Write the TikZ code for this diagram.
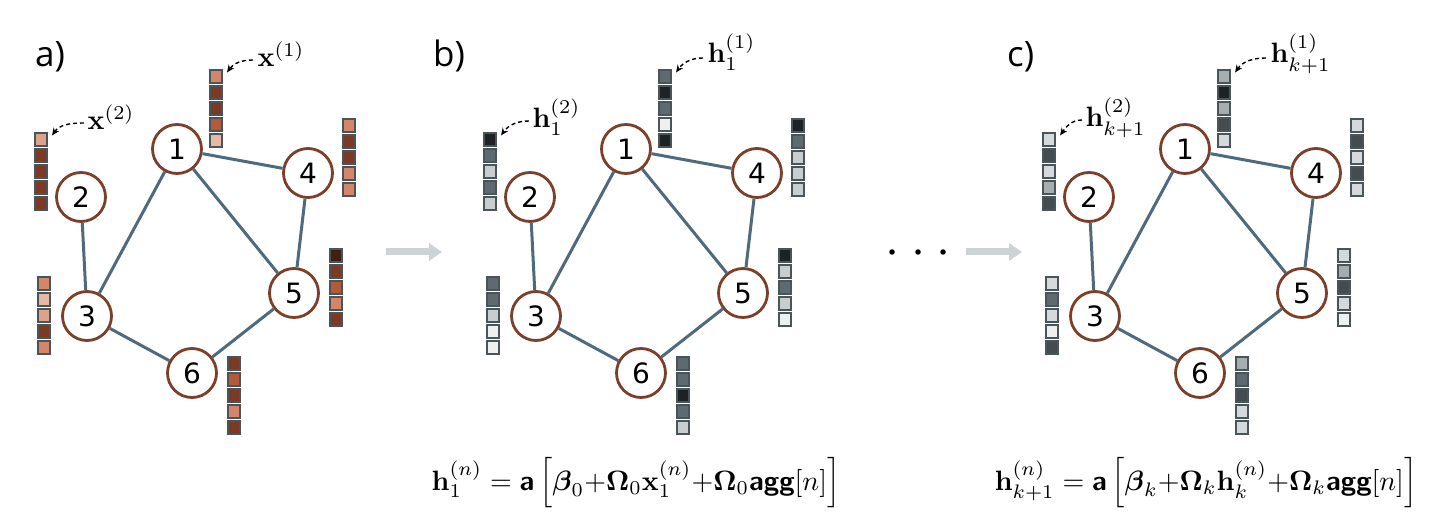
\documentclass[tikz,border=0pt]{standalone}
\usepackage{amsmath}
\usepackage[no-math]{fontspec}
\newfontfamily\lblfont{DejaVu Sans}
\newfontfamily\panelfont{Open Sans}
\usetikzlibrary{arrows.meta}
\definecolor{nodebrown}{HTML}{7B3F2A}
\definecolor{edgeblue}{HTML}{4E6A7C}
\definecolor{sqborder}{HTML}{4A555A}
\definecolor{cS}{HTML}{D4866A}
\definecolor{cD}{HTML}{7A3A26}
\definecolor{cM}{HTML}{B35A3B}
\definecolor{cP}{HTML}{E6B9A6}
\definecolor{cQ}{HTML}{DDA28C}
\definecolor{cV}{HTML}{3F1E15}
\definecolor{gK}{HTML}{1E2224}
\definecolor{gG}{HTML}{5E6A70}
\definecolor{gL}{HTML}{C8CED0}
\definecolor{gW}{HTML}{EEF0F0}
\definecolor{gA}{HTML}{A7ACAF}
\definecolor{gD}{HTML}{454C50}
\definecolor{gE}{HTML}{D5D9DB}
\definecolor{arrgray}{HTML}{CDD3D5}
\tikzset{
  gn/.style={circle, draw=nodebrown, line width=2.8pt, fill=white, minimum size=49pt, inner sep=0pt, font=\lblfont\fontsize{28}{30}\selectfont},
  edge/.style={draw=edgeblue, line width=3pt},
  sq/.style={rectangle, draw=sqborder, line width=1.6pt, minimum size=12.5pt, inner sep=0pt},
  lab/.style={inner sep=0pt, scale=2.8},
  dasharr/.style={line width=1.4pt, dash pattern=on 4pt off 3pt, -{Stealth[length=7.5pt,width=6.5pt]}},
  panel/.style={inner sep=0pt, font=\panelfont\fontsize{35}{40}\selectfont},
  eqn/.style={inner sep=0pt, scale=2.8},
  bigarr/.style={draw=arrgray, line width=7pt, -{Triangle[length=13pt,width=17pt]}},
  dotn/.style={circle, fill=black, minimum size=5.5pt, inner sep=0pt},
}
\newcommand\featvec[4]{\foreach \col [count=\i] in {#4} {\node[sq, fill=\col] (#1-\i) at (#2, {#3+6.5+(\i-1)*16}) {};}}
\newcommand\graphpanel[1]{%
  \node[gn] (#1n1) at (177,149) {1};
  \node[gn] (#1n2) at (81,197) {2};
  \node[gn] (#1n3) at (87,316) {3};
  \node[gn] (#1n4) at (308,173) {4};
  \node[gn] (#1n5) at (294,293) {5};
  \node[gn] (#1n6) at (192,373) {6};
  \draw[edge] (#1n1) -- (#1n4);
  \draw[edge] (#1n1) -- (#1n3);
  \draw[edge] (#1n1) -- (#1n5);
  \draw[edge] (#1n2) -- (#1n3);
  \draw[edge] (#1n4) -- (#1n5);
  \draw[edge] (#1n3) -- (#1n6);
  \draw[edge] (#1n6) -- (#1n5);
}
\begin{document}
\begin{tikzpicture}[x=1pt,y=-1pt]
\useasboundingbox (0,0) rectangle (1432,526);
% panel a
\begin{scope}
  \graphpanel{a}
  \featvec{av1}{216}{70}{cS,cD,cD,cM,cP}
  \featvec{av2}{41}{133}{cQ,cD,cD,cD,cD}
  \featvec{av4}{349}{119}{cS,cD,cD,cS,cS}
  \featvec{av5}{336}{249}{cV,cD,cM,cS,cD}
  \featvec{av3}{44}{277}{cS,cP,cQ,cD,cS}
  \featvec{av6}{234}{357}{cD,cM,cD,cS,cD}
  \node[lab, anchor=base west] (al1) at (257,67) {$\mathbf{x}^{(1)}$};
  \node[lab, anchor=base west] (al2) at (87,130) {$\mathbf{x}^{(2)}$};
  \draw[dasharr] ([shift={(-4pt,7pt)}]al1.base west) to[out=180,in=55] ([shift={(4pt,-3pt)}]av1-1.north east);
  \draw[dasharr] ([shift={(-3pt,7pt)}]al2.base west) to[out=180,in=55] ([shift={(4pt,-3pt)}]av2-1.north east);
\end{scope}
% panel b
\begin{scope}[xshift=449pt]
  \graphpanel{b}
  \featvec{bv1}{216}{70}{gG,gK,gG,gW,gK}
  \featvec{bv2}{41}{133}{gK,gG,gL,gG,gL}
  \featvec{bv4}{349}{119}{gK,gG,gL,gL,gL}
  \featvec{bv5}{336}{249}{gK,gL,gG,gL,gW}
  \featvec{bv3}{44}{277}{gG,gG,gL,gW,gW}
  \featvec{bv6}{234}{357}{gG,gG,gK,gG,gL}
  \node[lab, anchor=base west] (bl1) at (258,63) {$\mathbf{h}_1^{(1)}$};
  \node[lab, anchor=base west] (bl2) at (83,128) {$\mathbf{h}_1^{(2)}$};
  \draw[dasharr] ([shift={(-4pt,5pt)}]bl1.base west) to[out=180,in=55] ([shift={(4pt,-3pt)}]bv1-1.north east);
  \draw[dasharr] ([shift={(-3pt,7pt)}]bl2.base west) to[out=180,in=55] ([shift={(4pt,-3pt)}]bv2-1.north east);
\end{scope}
% panel c
\begin{scope}[xshift=1008pt]
  \graphpanel{c}
  \featvec{cv1}{216}{70}{gA,gK,gA,gD,gE}
  \featvec{cv2}{41}{133}{gE,gD,gE,gA,gD}
  \featvec{cv4}{349}{119}{gE,gD,gE,gD,gE}
  \featvec{cv5}{336}{249}{gE,gA,gD,gE,gW}
  \featvec{cv3}{44}{277}{gE,gG,gE,gW,gD}
  \featvec{cv6}{234}{357}{gA,gG,gD,gE,gE}
  \node[lab, anchor=base west] (cl1) at (262,63) {$\mathbf{h}_{k+1}^{(1)}$};
  \node[lab, anchor=base west] (cl2) at (77,127) {$\mathbf{h}_{k+1}^{(2)}$};
  \draw[dasharr] ([shift={(-4pt,5pt)}]cl1.base west) to[out=180,in=55] ([shift={(4pt,-3pt)}]cv1-1.north east);
  \draw[dasharr] ([shift={(-3pt,7pt)}]cl2.base west) to[out=180,in=55] ([shift={(4pt,-3pt)}]cv2-1.north east);
\end{scope}
% panel labels
\node[panel, anchor=base west] (pa) at (35,67) {a)};
\node[panel, anchor=base west] (pb) at (433,67) {b)};
\node[panel, anchor=base west] (pc) at (1007,67) {c)};
% transition arrows and dots
\coordinate (ar1s) at (386,252);
\coordinate (ar1e) at (442,252);
\coordinate (ar2s) at (966,252);
\coordinate (ar2e) at (1022,252);
\draw[bigarr] (ar1s) -- (ar1e);
\draw[bigarr] (ar2s) -- (ar2e);
\node[dotn] (d1) at (892,252) {};
\node[dotn] (d2) at (918,252) {};
\node[dotn] (d3) at (943,252) {};
% equations
\node[eqn] (eqb) at (636,483) {$\mathbf{h}_1^{(n)} = \textsf{\textbf{a}}\left[\boldsymbol{\beta}_0 {+} \mathbf{\Omega}_0\mathbf{x}_1^{(n)} {+} \mathbf{\Omega}_0\textsf{\textbf{agg}}[n]\right]$};
\node[eqn] (eqc) at (1206,483) {$\mathbf{h}_{k+1}^{(n)} = \textsf{\textbf{a}}\left[\boldsymbol{\beta}_k {+} \mathbf{\Omega}_k\mathbf{h}_k^{(n)} {+} \mathbf{\Omega}_k\textsf{\textbf{agg}}[n]\right]$};
\end{tikzpicture}
\end{document}
